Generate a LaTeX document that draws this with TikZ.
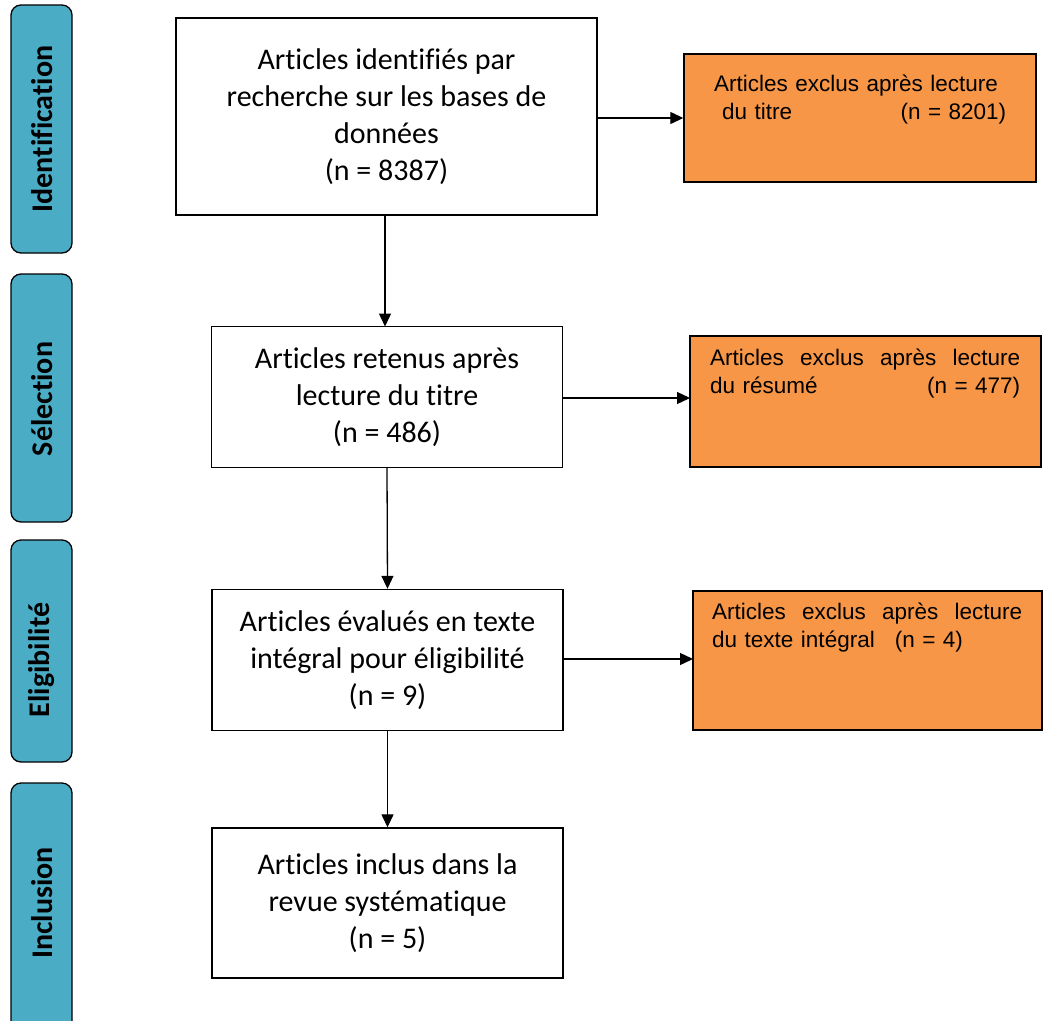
\documentclass[tikz,border=0pt]{standalone}
\usepackage{fontspec}
\setmainfont{Carlito}[Ligatures={NoCommon}]
\newfontfamily\arialf{Liberation Sans}
\usetikzlibrary{arrows.meta}
\definecolor{phaseblue}{HTML}{4BACC6}
\definecolor{exclorange}{HTML}{F79646}
\begin{document}
\begin{tikzpicture}[x=1pt,y=-1pt,
  phase/.style={draw=black,line width=1.3pt,fill=phaseblue,rounded corners=10pt},
  phasetext/.style={rotate=90,font=\fontsize{30}{32}\selectfont\bfseries},
  mainbox/.style={draw=black,line width=1.4pt,fill=white,align=center,
     font=\fontsize{30}{37}\selectfont,inner sep=0pt},
  exbox/.style={draw=black,line width=1.4pt,fill=exclorange,inner sep=0pt},
  extext/.style={anchor=north west,align=left,inner sep=0pt,
     font=\arialf\fontsize{22.5}{27.5}\selectfont},
  arr/.style={line width=1.3pt,-{Triangle[length=13pt,width=12pt]}}
]
\useasboundingbox (0,0) rectangle (1044,1020);
% phase bars
\draw[phase] (11,5) rectangle (72,253);
\node[phasetext] (pid) at (42,129) {Identification};
\draw[phase] (11,274) rectangle (72,522);
\node[phasetext] (psel) at (42,399) {Sélection};
\draw[phase] (11,540) rectangle (72,762);
\node[phasetext] (pel) at (42,660) {Eligibilité};
\draw[phase] (11,783) rectangle (72,1032);
\node[phasetext] (pinc) at (42,903) {Inclusion};
% main boxes
\node[mainbox,minimum width=421pt,minimum height=197pt] (b1) at (386.5,116.5)
  {Articles identifiés par\\recherche sur les bases de\\données\\(n = 8387)};
\node[mainbox,minimum width=351pt,minimum height=141pt] (b2) at (387,397)
  {Articles retenus après\\lecture du titre\\(n = 486)};
\node[mainbox,minimum width=351pt,minimum height=141pt] (b3) at (387.5,660)
  {Articles évalués en texte\\intégral pour éligibilité\\(n = 9)};
\node[mainbox,minimum width=351pt,minimum height=150pt] (b4) at (387.5,903)
  {Articles inclus dans la\\revue systématique\\(n = 5)};
% exclusion boxes
\node[exbox,minimum width=352pt,minimum height=128pt] (o1) at (860,118) {};
\node[extext,text width=292pt] (o1t) at (714,75)
  {Articles exclus après lecture\\\hspace*{8pt}du titre\hfill(n = 8201)\hspace*{10pt}};
\node[exbox,minimum width=351pt,minimum height=131pt] (o2) at (865.5,401.5) {};
\node[extext,text width=310pt] (o2t) at (710,349)
  {Articles\hfill exclus\hfill après\hfill lecture\\du résumé\hfill(n = 477)\hspace*{25pt}};
\node[exbox,minimum width=349pt,minimum height=139pt] (o3) at (867.5,660.5) {};
\node[extext,text width=310pt] (o3t) at (712,603)
  {Articles\hfill exclus\hfill après\hfill lecture\\du texte intégral\hspace{20pt}(n = 4)};
% connector end points
\coordinate (a2s) at (562.5,398);
\coordinate (a2e) at (690,398);
\coordinate (a3s) at (563,659);
\coordinate (a3e) at (693,659);
\coordinate (a1s) at (385,215);
\coordinate (a1e) at (385,326.5);
% connectors
\draw[arr] (b1.east |- o1.west) -- (o1.west);
\draw[arr] (a2s) -- (a2e);
\draw[arr] (a3s) -- (a3e);
\draw[arr] (a1s) -- (a1e);
\draw[arr] (b2.south) -- (b3.north);
\draw[arr] (b3.south) -- (b4.north);
\end{tikzpicture}
\end{document}
